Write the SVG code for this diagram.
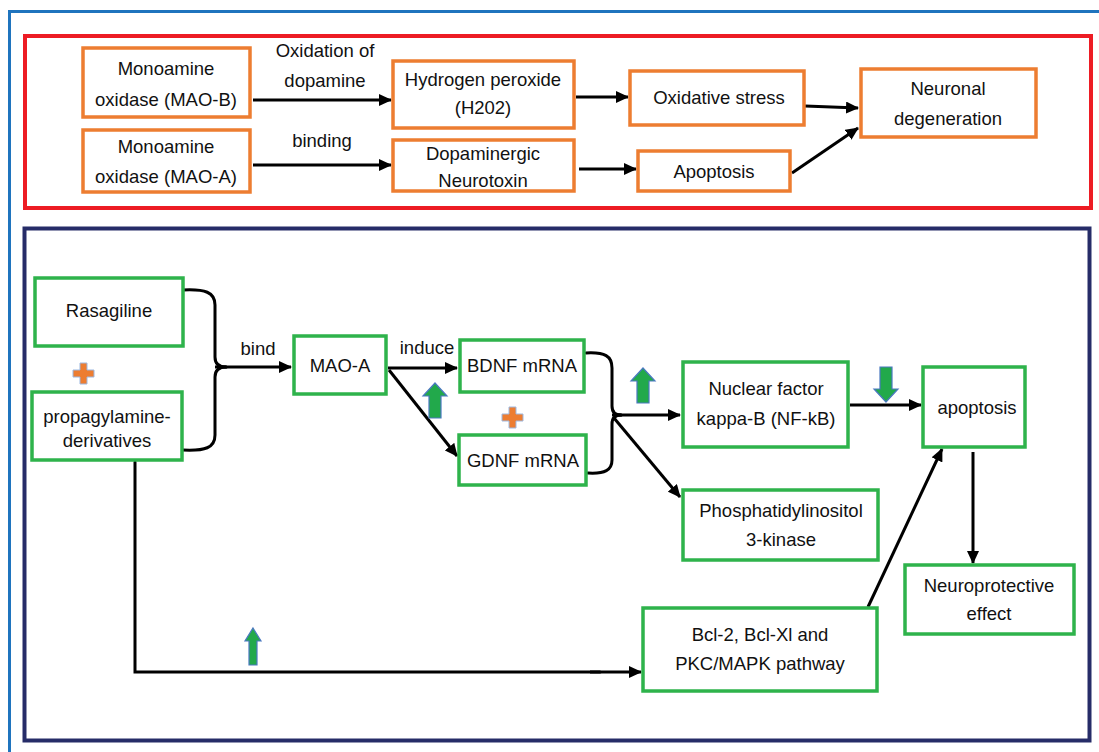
<svg xmlns="http://www.w3.org/2000/svg" width="1099" height="752" viewBox="0 0 1099 752">
  <style>
    text { font-family: "Liberation Sans", Arial, sans-serif; font-size: 18.5px; fill: #111; text-anchor: middle; dominant-baseline: central; }
    .ob { fill: #fff; stroke: #ED7D31; stroke-width: 3.5; }
    .gb { fill: #fff; stroke: #2EB34B; stroke-width: 3.5; }
    .ln { fill: none; stroke: #000; stroke-width: 3; stroke-linecap: round; }
    .ar { fill: none; stroke: #000; stroke-width: 3; marker-end: url(#ah); }
    .up { fill: #22A94B; stroke: #4A78C0; stroke-width: 1.2; stroke-linejoin: miter; }
    .plus { fill: #ED7D31; stroke: #9DB8E0; stroke-width: 1; }
  </style>
  <defs>
    <marker id="ah" markerUnits="userSpaceOnUse" markerWidth="14" markerHeight="12" refX="12" refY="6" orient="auto">
      <path d="M0,0 L13,6 L0,12 Z" fill="#000"/>
    </marker>
  </defs>

  <rect width="1099" height="752" fill="#fff"/>

  <!-- frames -->
  <g id="frames">
    <path d="M9.5,752 V11.5 H1099" fill="none" stroke="#1F74BE" stroke-width="3"/>
    <rect x="25" y="36" width="1066" height="172" fill="none" stroke="#ED1C24" stroke-width="4"/>
    <rect x="24.5" y="228.5" width="1065" height="512" fill="none" stroke="#262C68" stroke-width="4"/>
  </g>

  <!-- connectors -->
  <g id="connectors">
    <path class="ar" d="M253,100 H391"/>
    <path class="ar" d="M253,165 H391"/>
    <path class="ar" d="M576,97 H628"/>
    <path class="ar" d="M579,169 H636"/>
    <path class="ar" d="M805,106 L858,108"/>
    <path class="ar" d="M792,173 L858,128"/>

    <path class="ln" d="M183,290 C205,289 215,292 215,305 V357 Q215,367 226,367"/>
    <path class="ln" d="M183,450 C205,451 215,448 215,435 V377 Q215,367 226,367"/>
    <path class="ar" d="M215,367 H291"/>
    <path class="ar" d="M388,368 H457"/>
    <path class="ar" d="M389,370 L457,456"/>

    <path class="ln" d="M586,353 C605,352 612,356 612,368 V406 Q612,415 621,415"/>
    <path class="ln" d="M588,473 C605,474 612,470 612,460 V424 Q612,415 621,415"/>
    <path class="ar" d="M612,415 H680"/>
    <path class="ar" d="M614,418 L680,497"/>
    <path class="ar" d="M850,405 H921"/>
    <path class="ar" d="M973,452 V563"/>
    <path class="ar" d="M868,607 L942,449"/>
    <path class="ln" d="M135,462 V672 H600"/>
    <path class="ar" d="M590,672 H641"/>
  </g>

  <!-- indicators -->
  <g id="indicators">
    <polygon class="up" points="435,383 447,396 441,396 441,418 429,418 429,396 423,396"/>
    <polygon class="up" points="643,368 655,381 649,381 649,403 637,403 637,381 631,381"/>
    <polygon class="up" points="886,402 898,389 892,389 892,367 880,367 880,389 874,389"/>
    <polygon class="up" points="253,628 261,641 257,641 257,665 249,665 249,641 245,641"/>
    <path class="plus" d="M80,363 h7 v7 h7 v7 h-7 v7 h-7 v-7 h-7 v-7 h7 z"/>
    <path class="plus" d="M509,407 h7 v7 h7 v7 h-7 v7 h-7 v-7 h-7 v-7 h7 z"/>
  </g>

  <!-- edge labels -->
  <g id="labels">
    <text x="325" y="50">Oxidation of</text>
    <text x="325" y="80">dopamine</text>
    <text x="322" y="140">binding</text>
    <text x="258" y="348">bind</text>
    <text x="427" y="347">induce</text>
  </g>

  <!-- upper pathway -->
  <g id="mao-b">
    <rect class="ob" x="83" y="48" width="167" height="69"/>
    <text x="166" y="68">Monoamine</text>
    <text x="166" y="99">oxidase (MAO-B)</text>
  </g>
  <g id="mao-a-top">
    <rect class="ob" x="83" y="130" width="167" height="62"/>
    <text x="166" y="146">Monoamine</text>
    <text x="166" y="176">oxidase (MAO-A)</text>
  </g>
  <g id="h2o2">
    <rect class="ob" x="393" y="61" width="181" height="67"/>
    <text x="483" y="79">Hydrogen peroxide</text>
    <text x="483" y="107">(H202)</text>
  </g>
  <g id="neurotoxin">
    <rect class="ob" x="393" y="140" width="181" height="51"/>
    <text x="483" y="153">Dopaminergic</text>
    <text x="483" y="180">Neurotoxin</text>
  </g>
  <g id="oxidative-stress">
    <rect class="ob" x="630" y="71" width="174" height="54"/>
    <text x="719" y="97">Oxidative stress</text>
  </g>
  <g id="apoptosis-top">
    <rect class="ob" x="638" y="151" width="152" height="40"/>
    <text x="714" y="171">Apoptosis</text>
  </g>
  <g id="neuronal-degeneration">
    <rect class="ob" x="861" y="69" width="175" height="68"/>
    <text x="948" y="88">Neuronal</text>
    <text x="948" y="118">degeneration</text>
  </g>

  <!-- lower pathway -->
  <g id="rasagiline">
    <rect class="gb" x="35" y="278" width="148" height="68"/>
    <text x="109" y="310">Rasagiline</text>
  </g>
  <g id="propagylamine">
    <rect class="gb" x="32" y="392" width="150" height="68"/>
    <text x="107" y="416">propagylamine-</text>
    <text x="107" y="440">derivatives</text>
  </g>
  <g id="mao-a">
    <rect class="gb" x="294" y="336" width="92" height="58"/>
    <text x="340" y="365">MAO-A</text>
  </g>
  <g id="bdnf">
    <rect class="gb" x="460" y="340" width="124" height="52"/>
    <text x="522" y="365">BDNF mRNA</text>
  </g>
  <g id="gdnf">
    <rect class="gb" x="459" y="435" width="127" height="50"/>
    <text x="523" y="460">GDNF mRNA</text>
  </g>
  <g id="nf-kb">
    <rect class="gb" x="683" y="362" width="165" height="85"/>
    <text x="766" y="388">Nuclear factor</text>
    <text x="766" y="418">kappa-B (NF-kB)</text>
  </g>
  <g id="pi3k">
    <rect class="gb" x="683" y="490" width="195" height="70"/>
    <text x="781" y="510">Phosphatidylinositol</text>
    <text x="781" y="539">3-kinase</text>
  </g>
  <g id="apoptosis">
    <rect class="gb" x="923" y="367" width="102" height="80"/>
    <text x="977" y="407">apoptosis</text>
  </g>
  <g id="neuroprotective">
    <rect class="gb" x="905" y="565" width="169" height="69"/>
    <text x="989" y="585">Neuroprotective</text>
    <text x="989" y="613">effect</text>
  </g>
  <g id="bcl2">
    <rect class="gb" x="643" y="608" width="234" height="83"/>
    <text x="760" y="634">Bcl-2, Bcl-Xl and</text>
    <text x="760" y="663">PKC/MAPK pathway</text>
  </g>
</svg>
